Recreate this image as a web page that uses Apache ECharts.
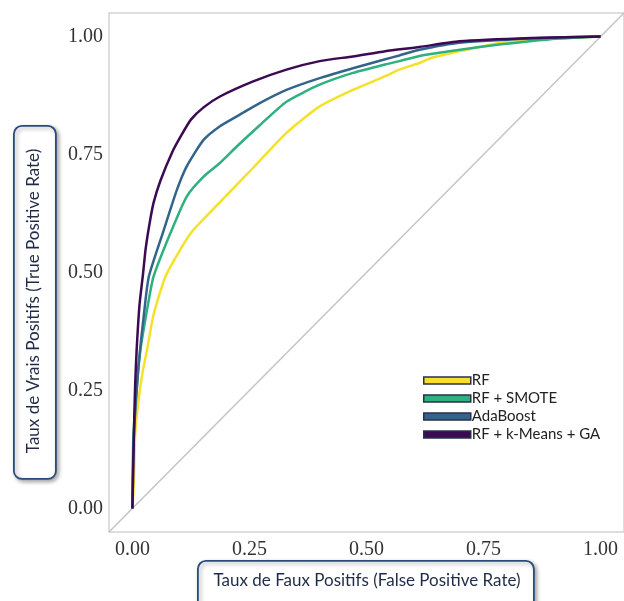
<!DOCTYPE html>
<html><head><meta charset="utf-8">
<script src="https://cdn.jsdelivr.net/npm/echarts@6/dist/echarts.min.js"></script>
<style>html,body{margin:0;padding:0;background:#fff}#c{width:624px;height:601px}</style>
</head><body><div id="c"></div>
<script>
const seriesNames = ['RF', 'RF + SMOTE', 'AdaBoost', 'RF + k-Means + GA'];
const tickLabels = ['0.00', '0.25', '0.50', '0.75', '1.00'];
// [FPR, TPR]
const rfData = [[0,0],[0.003,0.053],[0.006,0.159],[0.013,0.229],[0.022,0.29],[0.031,0.335],[0.045,0.41],[0.07,0.49],[0.1,0.545],[0.13,0.59],[0.187,0.649],[0.258,0.722],[0.329,0.796],[0.4,0.852],[0.471,0.887],[0.54,0.916],[0.57,0.93],[0.613,0.944],[0.64,0.955],[0.713,0.972],[0.783,0.986],[0.868,0.994],[1,1]];
const smoteData = [[0,0],[0.002,0.15],[0.01,0.265],[0.017,0.335],[0.035,0.442],[0.045,0.491],[0.081,0.583],[0.116,0.661],[0.152,0.703],[0.187,0.732],[0.223,0.767],[0.272,0.812],[0.329,0.862],[0.4,0.898],[0.471,0.923],[0.54,0.941],[0.57,0.948],[0.613,0.959],[0.677,0.969],[0.783,0.983],[0.889,0.994],[1,1]];
const adaData = [[0,0],[0.003,0.15],[0.013,0.3],[0.024,0.406],[0.035,0.491],[0.067,0.59],[0.095,0.675],[0.116,0.725],[0.152,0.781],[0.187,0.81],[0.223,0.831],[0.272,0.859],[0.329,0.887],[0.4,0.912],[0.471,0.933],[0.54,0.952],[0.57,0.96],[0.613,0.972],[0.698,0.987],[0.853,0.996],[1,1]];
const kmgaData = [[0,0],[0.004,0.193],[0.006,0.265],[0.009,0.335],[0.015,0.43],[0.023,0.5],[0.028,0.548],[0.036,0.6],[0.045,0.647],[0.06,0.695],[0.085,0.755],[0.104,0.79],[0.125,0.824],[0.152,0.85],[0.187,0.873],[0.258,0.905],[0.329,0.93],[0.4,0.948],[0.471,0.958],[0.54,0.969],[0.613,0.978],[0.698,0.99],[0.853,0.997],[1,1]];
const diagonal = [[-0.05,-0.05],[1.05,1.05]];
const colors = ['#F5E12A', '#2FB07F', '#33648C', '#3B0A52'];

const chart = echarts.init(document.getElementById('c'), null, {renderer:'canvas'});
const tickVals = tickLabels.map(Number);
const fmt = v => { const i = tickVals.findIndex(t => Math.abs(t - v) < 1e-6); return i >= 0 ? tickLabels[i] : ''; };
const axisCommon = {
  type:'value', min:-0.05, max:1.05, interval:0.05,
  axisLine:{show:false}, axisTick:{show:false}, splitLine:{show:false},
  axisLabel:{formatter:fmt, fontFamily:'Liberation Serif', fontSize:20, color:'#333', showMinLabel:false, showMaxLabel:false}
};
const datasets = [rfData, smoteData, adaData, kmgaData];
chart.setOption({
  animation:false,
  grid:{left:109, top:13, width:517, height:519, show:true, borderColor:'#d4d4d4', borderWidth:1.5},
  xAxis:Object.assign({}, axisCommon, {axisLabel:Object.assign({}, axisCommon.axisLabel, {margin:8})}),
  yAxis:Object.assign({}, axisCommon, {axisLabel:Object.assign({}, axisCommon.axisLabel, {margin:6})}),
  legend:{
    orient:'vertical', left:418, top:367, itemWidth:47, itemHeight:7, itemGap:1, icon:'rect',
    itemStyle:{borderColor:'#26324d', borderWidth:1.5},
    textStyle:{fontFamily:'Lato', fontSize:15, lineHeight:17, color:'#222', padding:[0,0,0,-4]},
    data:seriesNames
  },
  series:[
    {type:'line', data:diagonal, symbol:'none', silent:true, lineStyle:{color:'#c4c4c4', width:1.5}, z:1},
  ].concat(datasets.map((d,i)=>({
    name:seriesNames[i], type:'line', data:d, symbol:'none', smooth:0.2,
    lineStyle:{color:colors[i], width:2.5}, itemStyle:{color:colors[i]}, z:2+i
  }))),
  graphic:[
    {type:'rect', left:13, top:125, shape:{width:42, height:353, r:8},
     style:{fill:'#fff', stroke:'#2c4a7c', lineWidth:1.8, shadowBlur:4, shadowOffsetX:2, shadowOffsetY:2, shadowColor:'rgba(0,0,0,0.35)'}},
    {type:'text', x:34, y:301, rotation:Math.PI/2,
     style:{text:'Taux de Vrais Positifs (True Positive Rate)', fontFamily:'Lato', fontSize:17, fill:'#1f2b47', align:'center', verticalAlign:'middle'}},
    {type:'rect', left:197, top:560, shape:{width:336, height:50, r:8},
     style:{fill:'#fff', stroke:'#2c4a7c', lineWidth:1.8, shadowBlur:4, shadowOffsetX:2, shadowOffsetY:2, shadowColor:'rgba(0,0,0,0.35)'}},
    {type:'text', x:367, y:581,
     style:{text:'Taux de Faux Positifs (False Positive Rate)', fontFamily:'Lato', fontSize:17, fill:'#1f2b47', align:'center', verticalAlign:'middle'}}
  ]
});
</script></body></html>
